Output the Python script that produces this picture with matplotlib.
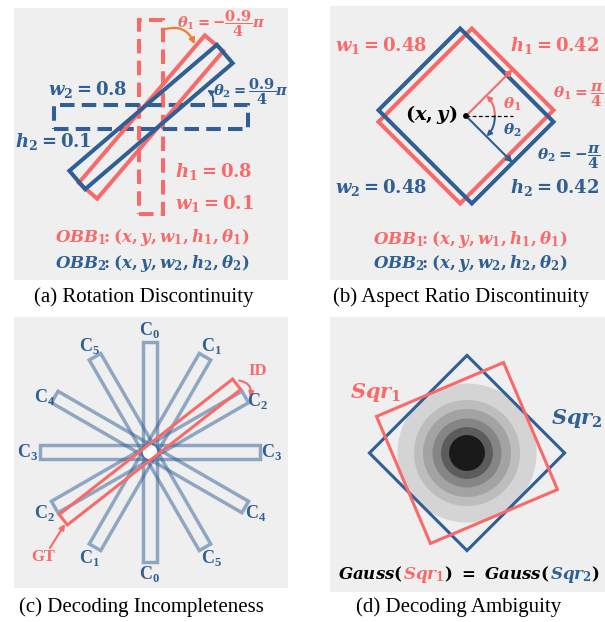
import numpy as np
import matplotlib
matplotlib.use('Agg')
import matplotlib.pyplot as plt
from matplotlib.patches import Rectangle, Circle, FancyArrowPatch

plt.rcParams['mathtext.fontset'] = 'custom'
plt.rcParams['mathtext.it'] = 'DejaVu Serif:italic:bold'
plt.rcParams['mathtext.rm'] = 'DejaVu Serif:bold'
plt.rcParams['mathtext.bf'] = 'Liberation Serif:bold'

RED = '#f86a6a'
BLUE = '#2f5f95'
ORANGE = '#ed7d31'
BG = '#efefef'

# (a) rotation discontinuity: OBB1, OBB2
a_w = [0.1, 0.8]
a_h = [0.8, 0.1]
a_theta = [-0.9 / 4 * np.pi, 0.9 / 4 * np.pi]

# (b) aspect ratio discontinuity
b_w = [0.48, 0.48]
b_h = [0.42, 0.42]
b_theta = [np.pi / 4, -np.pi / 4]

# (c) decoding incompleteness: angle classes
c_names = ['0', '1', '2', '3', '4', '5']
c_angles = [90, 60, 30, 0, -30, -60]
c_len, c_wid = 1.0, 0.06
gt_angle = 38

# (d) decoding ambiguity
d_side = 1.0
d_angles = [23, 45]
ring_r = [0.504, 0.384, 0.319, 0.25, 0.188, 0.13]
ring_col = ['#d4d4d4', '#bdbdbd', '#a3a3a3', '#858585', '#5c5c5c', '#1a1a1a']

W, H = 605, 622
fig = plt.figure(figsize=(W / 100, H / 100), dpi=100)


def panel(x0, y0, x1, y1, cx, cy, scale):
    ax = fig.add_axes([x0 / W, 1 - y1 / H, (x1 - x0) / W, (y1 - y0) / H])
    ax.set_xlim((x0 - cx) / scale, (x1 - cx) / scale)
    ax.set_ylim((cy - y1) / scale, (cy - y0) / scale)
    ax.set_facecolor(BG)
    ax.set_xticks([])
    ax.set_yticks([])
    for s in ax.spines.values():
        s.set_visible(False)
    return ax


def box(ax, w, h, ang_deg, **kw):
    r = Rectangle((-w / 2, -h / 2), w, h, angle=ang_deg, rotation_point=(0, 0),
                  fill=False, **kw)
    ax.add_patch(r)
    return r


def arc_arrow(ax, p0, p1, rad, color, lw=1.5, ms=8):
    ax.add_patch(FancyArrowPatch(p0, p1, connectionstyle=f'arc3,rad={rad}',
                                 arrowstyle='-|>', mutation_scale=ms,
                                 color=color, lw=lw, shrinkA=0, shrinkB=0))


axa = panel(14, 8, 288, 280, 151, 117, 242.5)
axb = panel(330, 6, 605, 280, 466, 116, 275)
axc = panel(14, 317, 288, 588, 150, 452, 220)
axd = panel(330, 317, 605, 592, 467, 453, 138)

# overlay for text in pixel coordinates
ov = fig.add_axes([0, 0, 1, 1])
ov.set_xlim(0, W)
ov.set_ylim(H, 0)
ov.axis('off')


def t(x, y, s, color='black', size=13, **kw):
    return ov.text(x, y, s, color=color, fontsize=size, ha='center', va='center', **kw)


def obb(i):
    return (r'$OBB_%d\!\!{:}(x, y, w_%d, h_%d, \theta_%d)$' % (i, i, i, i))


# ---- (a)
dash = (0, (3.6, 1.8))
box(axa, a_w[0], a_h[0], 0, ec=RED, lw=2.9, ls=dash, zorder=2)
box(axa, a_w[1], a_h[1], 0, ec=BLUE, lw=2.9, ls=dash, zorder=2)
box(axa, a_w[0], a_h[0], np.degrees(a_theta[0]), ec=RED, lw=2.9, zorder=3)
box(axa, a_w[1], a_h[1], np.degrees(a_theta[1]), ec=BLUE, lw=2.9, zorder=4)
arc_arrow(axa, (0.05, 0.36), (0.18, 0.30), -0.45, ORANGE, lw=1.6)
arc_arrow(axa, (0.256, 0.062), (0.232, 0.112), 0.3, BLUE, lw=1.4, ms=7)

t(221, 24, r'$\theta_1 = -\dfrac{0.9}{4}\pi$', RED, 10.5)
t(88, 90, r'$w_2 = 0.8$', BLUE, 13)
t(251, 92, r'$\theta_2 = \dfrac{0.9}{4}\pi$', BLUE, 10.5)
t(53, 142, r'$h_2 = 0.1$', BLUE, 13)
t(213, 171, r'$h_1 = 0.8$', RED, 13)
t(215, 204, r'$w_1 = 0.1$', RED, 13)
t(152, 238, obb(1), RED, 12)
t(152, 263, obb(2), BLUE, 12)

# ---- (b)
box(axb, b_w[0], b_h[0], np.degrees(b_theta[0]), ec=RED, lw=2.9, zorder=2)
box(axb, b_w[1], b_h[1], np.degrees(b_theta[1]), ec=BLUE, lw=2.9, zorder=3)
axb.plot([0, 0.17], [0, 0], color='black', lw=0.9, ls=(0, (3, 2)), zorder=4)
for th, col in zip(b_theta, [RED, BLUE]):
    L = b_w[0] / 2
    axb.add_patch(FancyArrowPatch((0, 0), (L * np.cos(th), L * np.sin(th)),
                                  arrowstyle='-|>', mutation_scale=9, color=col,
                                  lw=1.5, shrinkA=0, shrinkB=0, zorder=5))
    r = 0.105
    arc_arrow(axb, (r, 0), (r * np.cos(th), r * np.sin(th)),
              0.207 * np.sign(th), col, lw=1.5, ms=7)
axb.add_patch(Circle((0, 0), 0.008, color='black', zorder=6))

t(381, 46, r'$w_1 = 0.48$', RED, 13)
t(555, 46, r'$h_1 = 0.42$', RED, 13)
t(578, 95, r'$\theta_1 = \dfrac{\pi}{4}$', RED, 11)
t(431, 115, r'$(x, y)$', 'black', 14)
t(512, 104, r'$\theta_1$', RED, 11)
t(512, 130, r'$\theta_2$', BLUE, 11)
t(569, 157, r'$\theta_2 = -\dfrac{\pi}{4}$', BLUE, 11)
t(381, 187, r'$w_2 = 0.48$', BLUE, 13)
t(555, 187, r'$h_2 = 0.42$', BLUE, 13)
t(470, 239, obb(1), RED, 12)
t(470, 264, obb(2), BLUE, 12)

# ---- (c)
for ang in c_angles:
    box(axc, c_len, c_wid, ang, ec=BLUE, lw=2.5, alpha=0.5, zorder=2)
axc.add_patch(Circle((0, 0), 0.03, color='white', zorder=3))
box(axc, c_len, c_wid, gt_angle, ec=RED, lw=2.2, zorder=4)
lab_off = {('2', 1): (2, 10), ('4', -1): (0, 6)}
for name, ang in zip(c_names, c_angles):
    for sgn in (1, -1):
        a = np.radians(ang)
        x = 150 + sgn * 122 * np.cos(a)
        y = 452 - sgn * 122 * np.sin(a)
        dx, dy = lab_off.get((name, sgn), (0, 0))
        t(x + dx, y + dy, r'$\mathbf{C}_\mathbf{' + name + '}$', BLUE, 13)
arc_arrow(axc, (0.405, 0.325), (0.455, 0.25), -0.5, RED, lw=1.5, ms=7)
axc.add_patch(FancyArrowPatch((-0.455, -0.436), (-0.386, -0.327), arrowstyle='-|>',
                              mutation_scale=8, color=RED, lw=1.5,
                              shrinkA=0, shrinkB=0))
t(258, 371, 'ID', RED, 12, family='Liberation Serif', weight='bold')
t(43, 557, 'GT', RED, 12, family='Liberation Serif', weight='bold')

# ---- (d)
for rr, col in zip(ring_r, ring_col):
    axd.add_patch(Circle((0, 0), rr, color=col, lw=0, zorder=1))
box(axd, d_side, d_side, d_angles[1], ec=BLUE, lw=2.2, zorder=2)
box(axd, d_side, d_side, d_angles[0], ec=RED, lw=2.2, zorder=3)
t(376, 392, r'$Sqr_1$', RED, 15)
t(577, 419, r'$Sqr_2$', BLUE, 15)

parts = [(r'$Gauss($', 'black'), (r'$Sqr_1$', RED), (r'$)\ =\ Gauss($', 'black'),
         (r'$Sqr_2$', BLUE), (r'$)$', 'black')]
pieces = [ov.text(0, 579, s, color=c, fontsize=12, ha='left', va='baseline')
          for s, c in parts]
fig.canvas.draw()
rend = fig.canvas.get_renderer()
widths = [p.get_window_extent(rend).width for p in pieces]
x = 469 - sum(widths) / 2
for p, w in zip(pieces, widths):
    p.set_x(x)
    x += w

# captions
cap = dict(family='Liberation Serif', size=15)
t(144, 297, '(a) Rotation Discontinuity', **cap)
t(461, 297, '(b) Aspect Ratio Discontinuity', **cap)
t(141, 607, '(c) Decoding Incompleteness', **cap)
t(459, 607, '(d) Decoding Ambiguity', **cap)

fig.savefig('out.png', dpi=100, facecolor='white')
